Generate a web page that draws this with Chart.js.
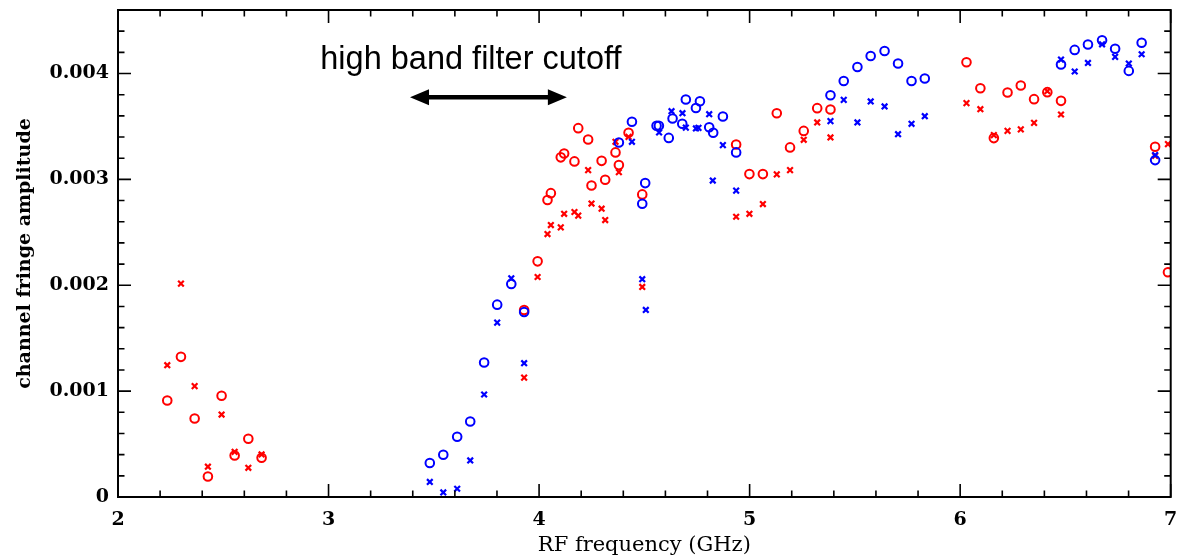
<!DOCTYPE html>
<html>
<head>
<meta charset="utf-8">
<script src="https://cdn.jsdelivr.net/npm/chart.js@4.4.0/dist/chart.umd.min.js"></script>
<style>
  html, body { margin: 0; padding: 0; background: #fff; }
</style>
</head>
<body>
<canvas id="chart" width="1177" height="560"></canvas>
<script>
// red points (circles and crosses share frequencies)
const redFreq = [2.234, 2.299, 2.364, 2.427, 2.492, 2.554, 2.619, 2.682,
  3.929, 3.993, 4.040, 4.056, 4.103, 4.119, 4.168, 4.186, 4.233, 4.249, 4.297, 4.314,
  4.363, 4.379, 4.425, 4.490, 4.936, 4.999, 5.063, 5.129, 5.192, 5.257, 5.321, 5.384,
  6.030, 6.096, 6.160, 6.225, 6.288, 6.351, 6.414, 6.479, 6.926, 6.987];
const redCircleAmp = [0.000911, 0.001324, 0.000742, 0.000194, 0.000956, 0.000392, 0.00055, 0.000371,
  0.001767, 0.002226, 0.002805, 0.00287, 0.003208, 0.003245, 0.00317, 0.003484, 0.003377, 0.002943, 0.003175, 0.002996,
  0.003255, 0.003135, 0.00344, 0.002858, 0.00333, 0.00305, 0.00305, 0.003625, 0.003302, 0.003458, 0.003673, 0.00366,
  0.004107, 0.003861, 0.00339, 0.003821, 0.003887, 0.003758, 0.003824, 0.003742, 0.003308, 0.002123];
const redCrossAmp = [0.001245, 0.002015, 0.001047, 0.000286, 0.000779, 0.000427, 0.000276, 0.000402,
  0.001128, 0.002078, 0.002484, 0.002569, 0.002547, 0.002675, 0.002692, 0.002658, 0.003088, 0.002772, 0.002723, 0.002616,
  0.003355, 0.003069, 0.003402, 0.001984, 0.002647, 0.002675, 0.002767, 0.003047, 0.003088, 0.003374, 0.003538, 0.003396,
  0.00372, 0.003663, 0.003418, 0.003458, 0.003472, 0.003534, 0.003833, 0.003613, 0.003223, 0.003333];

// blue points
const blueCircleFreq = [3.481, 3.545, 3.611, 3.673, 3.739, 3.801, 3.868, 3.929,
  4.379, 4.441, 4.490, 4.504, 4.558, 4.569, 4.616, 4.634, 4.680, 4.697, 4.745, 4.764,
  4.808, 4.827, 4.873, 4.936, 5.384, 5.447, 5.512, 5.575, 5.641, 5.705, 5.769, 5.832,
  6.479, 6.544, 6.607, 6.674, 6.736, 6.801, 6.862, 6.926];
const blueCircleAmp = [0.000321, 0.000399, 0.000569, 0.000713, 0.00127, 0.001817, 0.002012, 0.001748,
  0.003349, 0.003545, 0.00277, 0.002965, 0.003506, 0.003506, 0.003392, 0.003575, 0.003525, 0.003755, 0.003675, 0.003738,
  0.003493, 0.00344, 0.003594, 0.003255, 0.003795, 0.00393, 0.004062, 0.004166, 0.004213, 0.004094, 0.00393, 0.003953,
  0.004085, 0.004223, 0.004274, 0.004314, 0.004234, 0.004025, 0.00429, 0.003182];
const blueCrossFreq = [3.481, 3.545, 3.611, 3.673, 3.739, 3.801, 3.868, 3.929,
  4.441, 4.490, 4.507, 4.570, 4.629, 4.681, 4.697, 4.745, 4.757, 4.808, 4.825, 4.873, 4.936,
  5.384, 5.447, 5.512, 5.575, 5.641, 5.705, 5.769, 5.832,
  6.479, 6.544, 6.607, 6.674, 6.736, 6.801, 6.862, 6.926];
const blueCrossAmp = [0.000142, 0.000043, 0.000078, 0.000345, 0.000968, 0.001647, 0.002066, 0.001264,
  0.003355, 0.002057, 0.001767, 0.003443, 0.003644, 0.003625, 0.003489, 0.003481, 0.003487, 0.003616, 0.002989, 0.003324, 0.002894,
  0.00355, 0.003751, 0.003538, 0.003736, 0.003689, 0.003427, 0.003525, 0.003597,
  0.004132, 0.004019, 0.0041, 0.004276, 0.004157, 0.004094, 0.004182, 0.003229];

const xMin = 2, xMax = 7, xMajor = 1, xMinor = 0.2;
const yMin = 0, yMax = 0.0046, yMajor = 0.001, yMinor = 0.0002;

// annotation: label and double arrow, in data units
const noteText = 'high band filter cutoff';
const notePos = { x: 3.676, y: 0.00404 };
const arrowFrom = 3.387, arrowTo = 4.132, arrowY = 0.003776;

function toPoints(xs, ys) {
  return xs.map((x, i) => ({ x: x, y: ys[i] }));
}

const RED = '#ff0000';
const BLUE = '#0000ff';

function circles(label, data, color) {
  return {
    label: label, data: data, showLine: false,
    pointStyle: 'circle', pointRadius: 4.3, pointBorderWidth: 2,
    borderColor: color, pointBorderColor: color, pointBackgroundColor: 'rgba(0,0,0,0)'
  };
}
function crosses(label, data, color) {
  return {
    label: label, data: data, showLine: false,
    pointStyle: 'crossRot', pointRadius: 4, pointBorderWidth: 2.2,
    borderColor: color, pointBorderColor: color, pointBackgroundColor: color
  };
}

function noPadding(scale) {
  scale.paddingTop = 0;
  scale.paddingBottom = 0;
  scale.paddingLeft = 0;
  scale.paddingRight = 0;
}

const framePlugin = {
  id: 'frame',
  afterDatasetsDraw(chart) {
    const { ctx, chartArea: a, scales: { x, y } } = chart;
    ctx.save();
    ctx.strokeStyle = '#000';
    ctx.lineWidth = 2;
    ctx.strokeRect(a.left, a.top, a.right - a.left, a.bottom - a.top);
    ctx.lineWidth = 1.6;
    ctx.beginPath();
    const nx = Math.round((xMax - xMin) / xMinor);
    for (let i = 0; i <= nx; i++) {
      const px = x.getPixelForValue(xMin + i * xMinor);
      const len = i % Math.round(xMajor / xMinor) === 0 ? 13 : 6.5;
      ctx.moveTo(px, a.bottom); ctx.lineTo(px, a.bottom - len);
      ctx.moveTo(px, a.top); ctx.lineTo(px, a.top + len);
    }
    const ny = Math.floor((yMax - yMin) / yMinor + 1e-6);
    for (let i = 0; i <= ny; i++) {
      const py = y.getPixelForValue(yMin + i * yMinor);
      const len = i % Math.round(yMajor / yMinor) === 0 ? 13 : 6.5;
      ctx.moveTo(a.left, py); ctx.lineTo(a.left + len, py);
      ctx.moveTo(a.right, py); ctx.lineTo(a.right - len, py);
    }
    ctx.stroke();
    ctx.restore();
  }
};

const notePlugin = {
  id: 'note',
  afterDraw(chart) {
    const { ctx, scales: { x, y } } = chart;
    ctx.save();
    ctx.fillStyle = '#000';
    ctx.font = '32.5px "Liberation Sans", Arial, sans-serif';
    ctx.textAlign = 'center';
    ctx.textBaseline = 'alphabetic';
    ctx.fillText(noteText, x.getPixelForValue(notePos.x), y.getPixelForValue(notePos.y));

    const x1 = x.getPixelForValue(arrowFrom);
    const x2 = x.getPixelForValue(arrowTo);
    const py = y.getPixelForValue(arrowY);
    const head = 19, half = 8;
    ctx.strokeStyle = '#000';
    ctx.lineWidth = 4.5;
    ctx.beginPath();
    ctx.moveTo(x1 + head - 2, py);
    ctx.lineTo(x2 - head + 2, py);
    ctx.stroke();
    ctx.beginPath();
    ctx.moveTo(x1, py); ctx.lineTo(x1 + head, py - half); ctx.lineTo(x1 + head, py + half); ctx.closePath();
    ctx.moveTo(x2, py); ctx.lineTo(x2 - head, py - half); ctx.lineTo(x2 - head, py + half); ctx.closePath();
    ctx.fill();
    ctx.restore();
  }
};

const tickFont = { family: '"DejaVu Serif", serif', weight: 'bold', size: 19 };

new Chart(document.getElementById('chart'), {
  type: 'scatter',
  data: {
    datasets: [
      circles('blue o', toPoints(blueCircleFreq, blueCircleAmp), BLUE),
      crosses('blue x', toPoints(blueCrossFreq, blueCrossAmp), BLUE),
      circles('red o', toPoints(redFreq, redCircleAmp), RED),
      crosses('red x', toPoints(redFreq, redCrossAmp), RED)
    ]
  },
  options: {
    responsive: false,
    animation: false,
    layout: { padding: { top: 10, right: 6, left: 0, bottom: 0 } },
    plugins: { legend: { display: false }, tooltip: { enabled: false } },
    scales: {
      x: {
        type: 'linear', min: xMin, max: xMax,
        grid: { display: false, drawTicks: false },
        border: { display: false },
        ticks: { stepSize: xMajor, padding: 12, color: '#000', font: tickFont, maxRotation: 0 },
        title: {
          display: true, text: 'RF frequency (GHz)', color: '#000',
          font: { family: '"DejaVu Serif", serif', size: 21 },
          padding: { top: 0, bottom: 2 }
        },
        afterFit(scale) { scale.height = 63; noPadding(scale); }
      },
      y: {
        type: 'linear', min: yMin, max: yMax,
        grid: { display: false, drawTicks: false },
        border: { display: false },
        ticks: {
          stepSize: yMajor, includeBounds: false, padding: 9, color: '#000', font: tickFont,
          callback: (v) => {
            const k = Math.round(v / yMajor);
            if (Math.abs(v - k * yMajor) > 1e-9) return '';
            return k === 0 ? '0' : (k * yMajor).toFixed(3);
          }
        },
        title: {
          display: true, text: 'channel fringe amplitude', color: '#000',
          font: { family: '"DejaVu Serif", serif', weight: 'bold', size: 19 },
          padding: { top: 14, bottom: 0 }
        },
        afterFit(scale) { scale.width = 118; noPadding(scale); }
      }
    }
  },
  plugins: [framePlugin, notePlugin]
});
</script>
</body>
</html>
